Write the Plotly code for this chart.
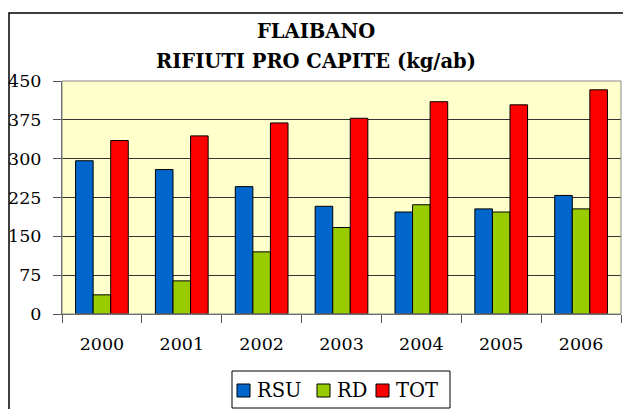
import plotly.graph_objects as go

years = ["2000", "2001", "2002", "2003", "2004", "2005", "2006"]
rsu = [296, 279, 246, 208, 197, 203, 229]
rd = [37, 64, 120, 167, 211, 197, 203]
tot = [335, 344, 369, 378, 410, 404, 433]
series_names = ["RSU", "RD", "TOT"]
series_colors = ["#0066CC", "#99CC00", "#FF0000"]
y_ticks = [0, 75, 150, 225, 300, 375, 450]

FONT = "DejaVu Serif"
W, H = 623, 409
L, R, T, B = 62, 2, 81, 95
pw, ph = W - L - R, H - T - B

fig = go.Figure()
for name, vals, col in zip(series_names, [rsu, rd, tot], series_colors):
    fig.add_trace(go.Bar(x=years, y=vals, name=name, showlegend=False,
                         marker=dict(color=col, line=dict(color="black", width=1))))

def px_x(x):
    return (x - L) / pw

def px_y(y):
    return (H - B - y) / ph

shapes = [
    dict(type="rect", xref="paper", yref="paper",
         x0=px_x(9), x1=px_x(640), y0=px_y(430), y1=px_y(13),
         line=dict(color="black", width=1.5), fillcolor="rgba(0,0,0,0)",
         layer="below"),
    dict(type="rect", xref="paper", yref="paper", x0=0, x1=1, y0=0, y1=1,
         line=dict(color="#888", width=1), fillcolor="rgba(0,0,0,0)"),
    dict(type="rect", xref="paper", yref="paper",
         x0=px_x(232), x1=px_x(450), y0=px_y(408), y1=px_y(371),
         line=dict(color="black", width=1), fillcolor="white"),
]
annotations = [
    dict(text="<b>FLAIBANO</b>", xref="paper", yref="paper",
         x=px_x(316), y=px_y(32), xanchor="center", yanchor="middle",
         showarrow=False, font=dict(family=FONT, size=19.5, color="black")),
    dict(text="<b>RIFIUTI PRO CAPITE (kg/ab)</b>", xref="paper", yref="paper",
         x=px_x(316), y=px_y(62), xanchor="center", yanchor="middle",
         showarrow=False, font=dict(family=FONT, size=19.5, color="black")),
]
legend_marker_x = [237, 317, 376]
legend_text_x = [255, 335, 394]
for name, col, mx, tx in zip(series_names, series_colors, legend_marker_x, legend_text_x):
    shapes.append(dict(type="rect", xref="paper", yref="paper",
                       x0=px_x(mx), x1=px_x(mx + 13), y0=px_y(397), y1=px_y(384),
                       line=dict(color="black", width=1), fillcolor=col))
    annotations.append(dict(text=name, xref="paper", yref="paper",
                            x=px_x(tx), y=px_y(390), xanchor="left", yanchor="middle",
                            showarrow=False, font=dict(family=FONT, size=19.5, color="black")))

fig.update_layout(
    width=W, height=H,
    margin=dict(l=L, r=R, t=T, b=B, pad=0, autoexpand=False),
    paper_bgcolor="white",
    plot_bgcolor="#FFFFCC",
    barmode="group",
    bargap=0.34, bargroupgap=0,
    showlegend=False,
    font=dict(family=FONT, color="black"),
    xaxis=dict(type="category", tickson="boundaries", ticks="outside",
               ticklen=8, tickcolor="#555", showline=True, linecolor="#555",
               tickfont=dict(family=FONT, size=17.5, color="black"), showgrid=False,
               ticklabelstandoff=14),
    yaxis=dict(range=[0, 450], tickvals=y_ticks, ticks="outside", ticklen=8,
               tickcolor="#555", showline=True, linecolor="#555",
               gridcolor="#333", gridwidth=1, zeroline=False,
               tickfont=dict(family=FONT, size=17.5, color="black"), ticklabelstandoff=8),
    shapes=shapes,
    annotations=annotations,
)

fig.write_html("out.html", config={"displayModeBar": False},
               post_script="document.body.style.margin='0';")
